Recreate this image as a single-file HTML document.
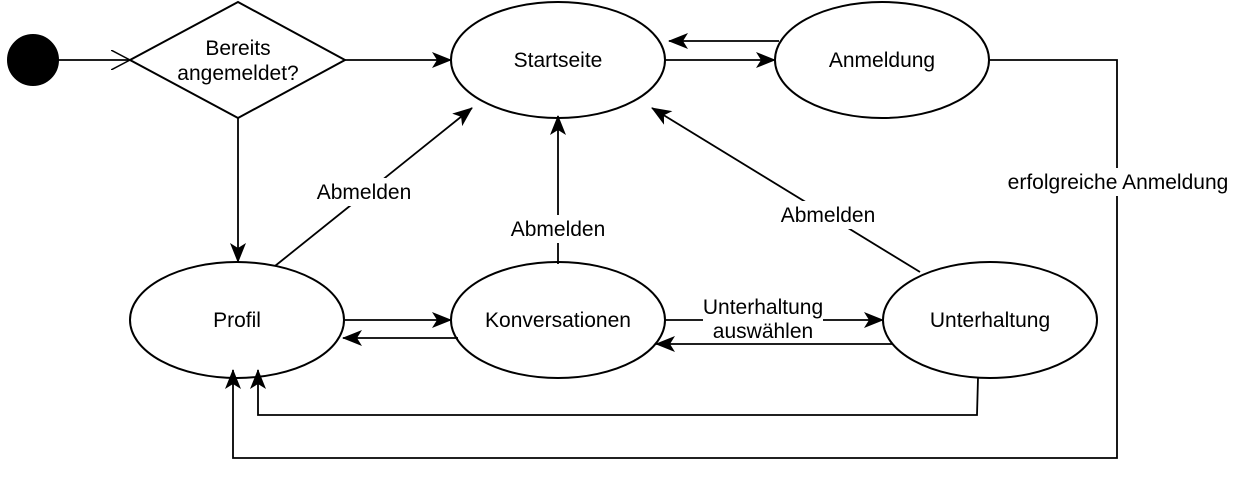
<!DOCTYPE html>
<html><head><meta charset="utf-8"><style>
html,body{margin:0;padding:0;background:#fff;}
svg{display:block;}
text{font-family:"Liberation Sans",Arial,sans-serif;font-size:21px;fill:#000;}
</style></head><body>
<svg width="1235" height="484" viewBox="0 0 1235 484" xmlns="http://www.w3.org/2000/svg">
<defs>
<marker id="a" markerWidth="20" markerHeight="16" refX="19" refY="8" orient="auto" markerUnits="userSpaceOnUse">
<path d="M0,0 L20,8 L0,16 L5,8 Z" fill="#000"/>
</marker>
<marker id="o" markerWidth="20" markerHeight="20" refX="19" refY="10" orient="auto" markerUnits="userSpaceOnUse">
<path d="M0,0 L19,10 L0,20" fill="none" stroke="#000" stroke-width="1.5"/>
</marker>
</defs>
<g stroke="#000" stroke-width="2" fill="#fff">
<circle cx="33" cy="60" r="25" fill="#000"/>
<polygon points="130,60 238,2 345,60 238,118"/>
<ellipse cx="558" cy="60" rx="107" ry="58"/>
<ellipse cx="882" cy="60" rx="107" ry="58"/>
<ellipse cx="237" cy="320" rx="107" ry="58"/>
<ellipse cx="558" cy="320" rx="107" ry="58"/>
<ellipse cx="990" cy="320" rx="107" ry="58"/>
</g>
<g stroke="#000" stroke-width="1.8" fill="none">
<line x1="58" y1="60" x2="130" y2="60" marker-end="url(#o)"/>
<line x1="345" y1="60" x2="451" y2="60" marker-end="url(#a)"/>
<line x1="665" y1="60" x2="775" y2="60" marker-end="url(#a)"/>
<line x1="779" y1="41" x2="669" y2="41" marker-end="url(#a)"/>
<line x1="238" y1="118" x2="238" y2="262" marker-end="url(#a)"/>
<line x1="275" y1="266" x2="472" y2="108" marker-end="url(#a)"/>
<line x1="558" y1="264" x2="558" y2="116" marker-end="url(#a)"/>
<line x1="920" y1="272" x2="652" y2="108" marker-end="url(#a)"/>
<line x1="345" y1="320" x2="451" y2="320" marker-end="url(#a)"/>
<line x1="458" y1="338" x2="343" y2="338" marker-end="url(#a)"/>
<line x1="665" y1="320" x2="883" y2="320" marker-end="url(#a)"/>
<line x1="893" y1="344" x2="656" y2="344" marker-end="url(#a)"/>
<polyline points="978,378 977,415 258,415 258,370" marker-end="url(#a)"/>
<polyline points="989,60 1117,60 1117,458 233,458 233,370" marker-end="url(#a)"/>
</g>
<rect x="312" y="178" width="104" height="28" fill="#fff"/>
<rect x="506" y="215" width="104" height="28" fill="#fff"/>
<rect x="776" y="201" width="104" height="28" fill="#fff"/>
<rect x="703" y="296" width="120" height="46" fill="#fff"/>
<rect x="1003" y="168" width="230" height="28" fill="#fff"/>
<g text-anchor="middle">
<text x="238" y="55">Bereits</text>
<text x="238" y="80">angemeldet?</text>
<text x="558" y="67">Startseite</text>
<text x="882" y="67">Anmeldung</text>
<text x="237" y="327">Profil</text>
<text x="558" y="327">Konversationen</text>
<text x="990" y="327">Unterhaltung</text>
<text x="364" y="199">Abmelden</text>
<text x="558" y="236">Abmelden</text>
<text x="828" y="222">Abmelden</text>
<text x="763" y="314">Unterhaltung</text>
<text x="763" y="338">auswählen</text>
<text x="1118" y="189">erfolgreiche Anmeldung</text>
</g>
</svg>
</body></html>
